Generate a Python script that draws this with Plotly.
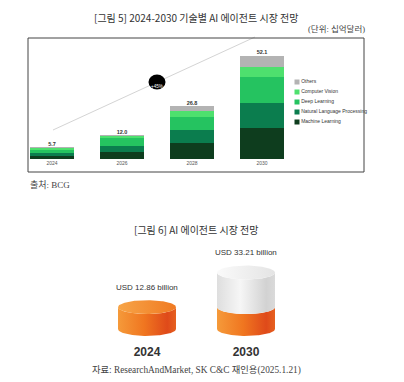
import numpy as np
import plotly.graph_objects as go

# ---------------- data ----------------
years = ["2024", "2026", "2028", "2030"]
machine_learning = [1.5, 3.6, 8.1, 15.5]
nlp = [1.4, 2.9, 6.6, 13.0]
deep_learning = [1.4, 4.3, 6.4, 13.1]
computer_vision = [1.2, 1.0, 3.0, 5.1]
others = [0.2, 0.2, 2.7, 5.4]
series_names = ["Machine Learning", "Natural Language Processing", "Deep Learning",
                "Computer Vision", "Others"]
growth_label = "+45%"

market_years = ["2024", "2030"]
market_values = [12.86, 33.21]
market_labels = ["USD 12.86 billion", "USD 33.21 billion"]

title5 = "[그림 5] 2024-2030 기술별 AI 에이전트 시장 전망"
unit_text = "(단위: 십억달러)"
source5 = "출처: BCG"
title6 = "[그림 6] AI 에이전트 시장 전망"
source6 = "자료: ResearchAndMarket, SK C&C 재인용(2025.1.21)"

# ---------------- style ----------------
W, H = 404, 382
def px(x): return x / W
def py(y): return 1 - y / H

series_colors = ["#0e3d1e", "#0b7d4e", "#25c360", "#4ee06e", "#b3b3b3"]
SANS = "Liberation Sans, Arial, sans-serif"
KR = "Noto Sans CJK KR, sans-serif"
SERIF = "Liberation Serif, Noto Sans CJK KR, serif"

series = [machine_learning, nlp, deep_learning, computer_vision, others]
totals = [sum(v) for v in zip(*series)]

fig = go.Figure()

# stacked bars
for name, vals, col in zip(series_names, series, series_colors):
    fig.add_trace(go.Bar(x=years, y=vals, name=name, marker=dict(color=col, line=dict(width=0)),
                         width=0.63, xaxis="x", yaxis="y", hoverinfo="skip"))
fig.add_trace(go.Scatter(x=years, y=totals, mode="text", text=[f"{t:.1f}" for t in totals],
                         textposition="top center", cliponaxis=False,
                         textfont=dict(size=5.5, color="#333", family=SANS, weight="bold"),
                         xaxis="x", yaxis="y", hoverinfo="skip"))

# custom legend (top to bottom: Others ... Machine Learning)
leg_names = series_names[::-1]
leg_cols = series_colors[::-1]
fig.add_trace(go.Scatter(x=[7] * len(leg_names), y=list(range(len(leg_names))),
                         mode="markers+text", text=leg_names, textposition="middle right",
                         marker=dict(symbol="square", size=5, color=leg_cols),
                         textfont=dict(size=5, color="#333", family=SANS),
                         cliponaxis=False, xaxis="x3", yaxis="y3", hoverinfo="skip"))

# cylinders
RX = 0.293   # x-units
RY = 4.1     # y-units
t = np.linspace(np.pi, 2 * np.pi, 80)
tt = np.linspace(0, 2 * np.pi, 160)
orange_side = [[0, "#f59a3a"], [0.45, "#f07620"], [0.85, "#df4a1a"], [1, "#e6601f"]]
orange_top = [[0, "#f7a548"], [1, "#f07a22"]]
gray_side = [[0, "#dedede"], [0.4, "#f6f6f6"], [0.85, "#d2d2d2"], [1, "#dadada"]]
gray_top = [[0, "#fafafa"], [1, "#e4e4e4"]]
base = market_values[0]

def side(cx, y0, y1, cs):
    xs = np.concatenate([cx + RX * np.cos(t), (cx + RX * np.cos(t))[::-1]])
    ys = np.concatenate([y0 + RY * np.sin(t), (y1 + RY * np.sin(t))[::-1]])
    fig.add_trace(go.Scatter(x=xs, y=ys, mode="lines", fill="toself", line=dict(width=0),
                             fillgradient=dict(type="horizontal", colorscale=cs),
                             xaxis="x2", yaxis="y2", hoverinfo="skip"))

def top(cx, y1, cs):
    fig.add_trace(go.Scatter(x=cx + RX * np.cos(tt), y=y1 + RY * np.sin(tt), mode="lines",
                             fill="toself", line=dict(width=0),
                             fillgradient=dict(type="horizontal", colorscale=cs),
                             xaxis="x2", yaxis="y2", hoverinfo="skip"))

for i, v in enumerate(market_values):
    ob = min(base, v)
    side(i, 0, ob, orange_side)
    if v > ob:
        side(i, ob, v, gray_side)
        top(i, v, gray_top)
    else:
        top(i, v, orange_top)

annotations = []
for i, (v, lab) in enumerate(zip(market_values, market_labels)):
    annotations.append(dict(x=i, y=v, xref="x2", yref="y2", text=lab, showarrow=False,
                            yshift=20, font=dict(size=8, color="#333", family=SANS)))

# text annotations
annotations += [
    dict(x=px(196), y=py(8), xref="paper", yref="paper", text=title5, showarrow=False,
         font=dict(size=10, color="#333", family=KR)),
    dict(x=px(367), y=py(22), xref="paper", yref="paper", text=unit_text, showarrow=False,
         xanchor="right", font=dict(size=8.5, color="#444", family=SERIF)),
    dict(x=px(28), y=py(185), xref="paper", yref="paper", text=source5, showarrow=False,
         xanchor="left", font=dict(size=9, color="#444", family=SERIF)),
    dict(x=px(196), y=py(229), xref="paper", yref="paper", text=title6, showarrow=False,
         font=dict(size=10, color="#333", family=KR)),
    dict(x=px(196), y=py(378), xref="paper", yref="paper", text=source6, showarrow=False,
         font=dict(size=9.3, color="#444", family=SERIF)),
    dict(x=px(157), y=py(82), xref="paper", yref="paper", text=growth_label, showarrow=False,
         font=dict(size=4.5, color="white", family=SANS)),
]

shapes = [
    dict(type="line", xref="paper", yref="paper", x0=px(53), y0=py(130), x1=px(255), y1=py(37),
         line=dict(color="#d4d4d4", width=1), layer="below"),
    dict(type="circle", xref="paper", yref="paper", x0=px(148.5), x1=px(165.5),
         y0=py(89.5), y1=py(74.5), fillcolor="black", line=dict(width=0)),
    dict(type="rect", xref="paper", yref="paper", x0=px(28), x1=px(364), y0=py(172), y1=py(38),
         line=dict(color="#444", width=1), fillcolor="rgba(0,0,0,0)"),
]

fig.update_layout(
    width=W, height=H, margin=dict(l=0, r=0, t=0, b=0),
    paper_bgcolor="white", plot_bgcolor="rgba(0,0,0,0)",
    showlegend=False, barmode="stack",
    xaxis=dict(domain=[px(17), px(367)], type="category", range=[-0.5, 4.5],
               showgrid=False, zeroline=False, showline=False, ticks="",
               tickfont=dict(size=5, color="#555", family=SANS), anchor="y"),
    yaxis=dict(domain=[py(159), py(159 - 62 * 1.98)], range=[0, 62], visible=False, anchor="x"),
    xaxis2=dict(domain=[px(48), px(345)], range=[-1, 2], tickvals=[0, 1], ticktext=market_years,
                showgrid=False, zeroline=False, showline=False, ticks="",
                tickfont=dict(size=12, color="#333", family=SANS, weight="bold"), anchor="y2"),
    yaxis2=dict(domain=[py(329 + 8 * 1.7), py(329 + 8 * 1.7 - 48 * 1.7)], range=[-8, 40],
                visible=False, anchor="x2"),
    xaxis3=dict(domain=[px(290), px(370)], range=[0, 80], visible=False, anchor="y3"),
    yaxis3=dict(domain=[py(127), py(77)], range=[4.5, -0.5], visible=False, anchor="x3"),
    annotations=annotations, shapes=shapes,
)

fig.write_html("out.html", config={"displayModeBar": False},
               post_script="document.body.style.margin='0';")
